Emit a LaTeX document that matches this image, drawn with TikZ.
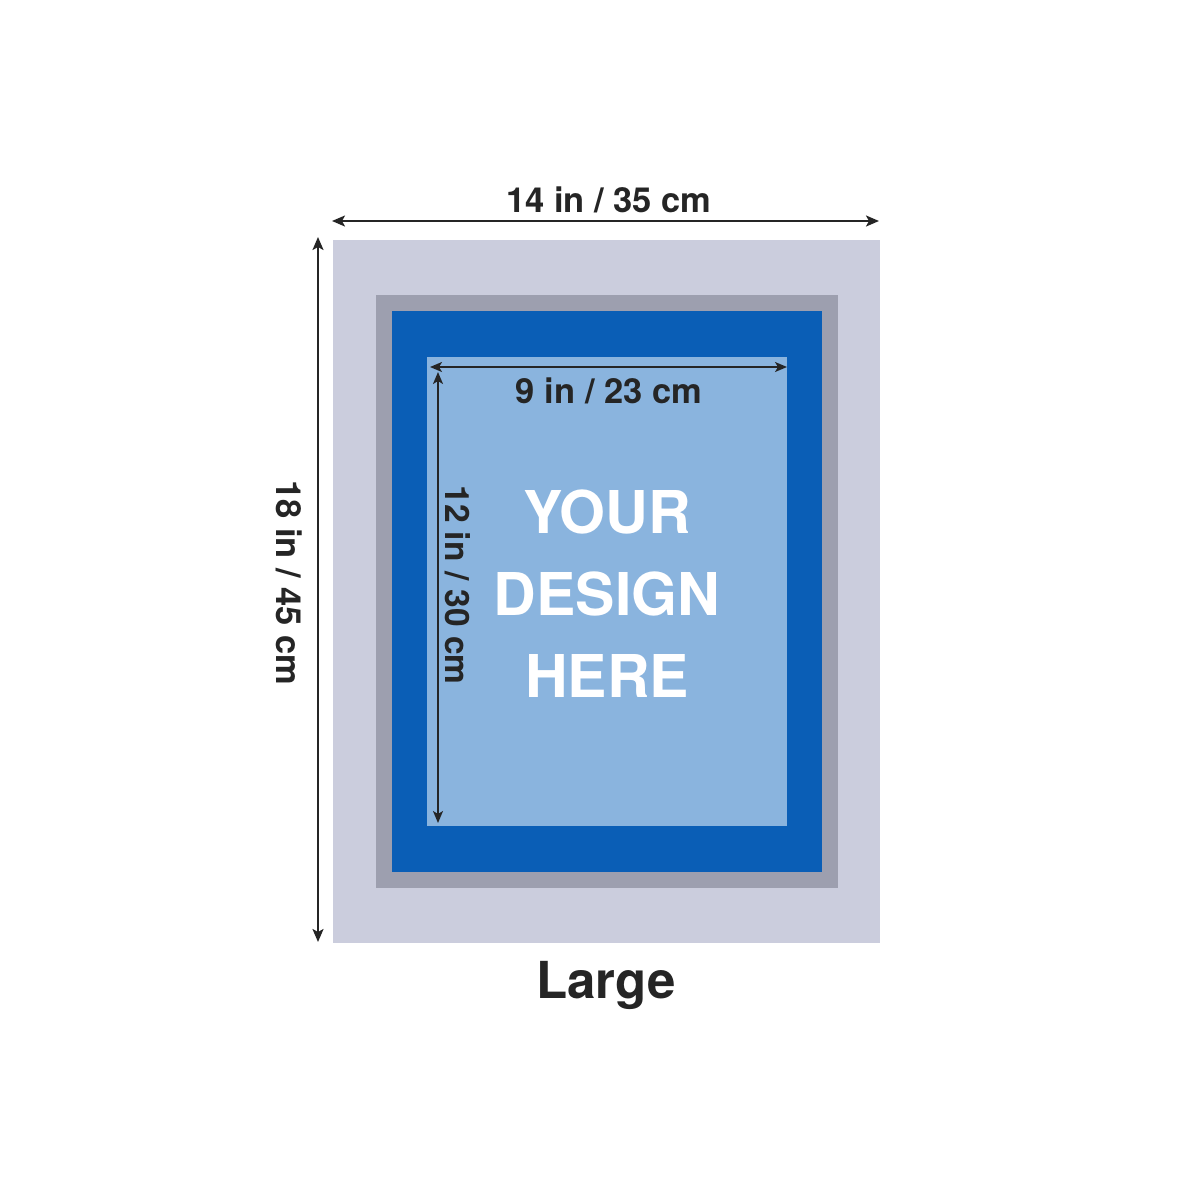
\documentclass[tikz,border=0pt]{standalone}
\usepackage{fontspec}
\setmainfont{TeX Gyre Heros}
\usetikzlibrary{arrows.meta}
\definecolor{outerc}{HTML}{CBCDDD}
\definecolor{grayc}{HTML}{9D9FAF}
\definecolor{bluec}{HTML}{0A5EB6}
\definecolor{lightc}{HTML}{8AB4DE}
\definecolor{inkc}{HTML}{252525}
\tikzset{
  panel/.style={fill=#1, draw=none},
  dimarrow/.style={draw=inkc, line width=2pt, {Stealth[length=13pt,width=11pt,inset=3pt]}-{Stealth[length=13pt,width=11pt,inset=3pt]}},
  innerarrow/.style={draw=inkc, line width=1.6pt, {Stealth[length=12pt,width=10pt,inset=3pt]}-{Stealth[length=12pt,width=10pt,inset=3pt]}},
  dimlabel/.style={text=inkc, font=\bfseries\fontsize{34.5}{40}\selectfont, inner sep=0pt},
  innerlabel/.style={text=inkc, font=\bfseries\fontsize{33.5}{40}\selectfont, inner sep=0pt},
  biglabel/.style={text=white, font=\bfseries\fontsize{59}{82}\selectfont, align=center, inner sep=0pt},
  titlelabel/.style={text=inkc, font=\bfseries\fontsize{51}{58}\selectfont, inner sep=0pt}
}
\begin{document}
\begin{tikzpicture}[x=1pt,y=-1pt]
\useasboundingbox[fill=white] (0,0) rectangle (1200,1200);
\fill[panel=outerc] (333,240) rectangle (880,943);
\fill[panel=grayc] (376,295) rectangle (838,888);
\fill[panel=bluec] (392,311) rectangle (822,872);
\fill[panel=lightc] (427,357) rectangle (787,826);
% arrow end points
\coordinate (tl) at (332,221);
\coordinate (tr) at (879,221);
\coordinate (lt) at (318,237);
\coordinate (lb) at (318,942);
\coordinate (il) at (430,367);
\coordinate (ir) at (787,367);
\coordinate (it) at (438,372);
\coordinate (ib) at (438,823);
\draw[dimarrow] (tl) -- (tr);
\draw[dimarrow] (lt) -- (lb);
\draw[innerarrow] (il) -- (ir);
\draw[innerarrow] (it) -- (ib);
\node[dimlabel, anchor=base] (w) at (609,212) {14 in / 35 cm};
\node[dimlabel, anchor=base] (iw) at (609,403) {9 in / 23 cm};
\node[dimlabel, rotate=-90] (h) at (289,583) {18 in / 45 cm};
\node[innerlabel, rotate=-90] (ih) at (458,585) {12 in / 30 cm};
\node[biglabel] (design) at (607,594) {YOUR\\DESIGN\\HERE};
\node[titlelabel, anchor=base] (size) at (606,998) {Large};
\end{tikzpicture}
\end{document}
